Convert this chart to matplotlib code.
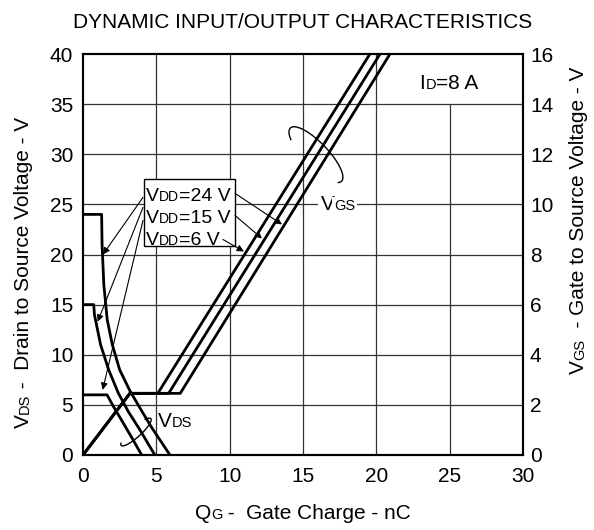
import matplotlib
matplotlib.use('Agg')
import matplotlib.pyplot as plt
from matplotlib.patches import Rectangle
import numpy as np

plt.rcParams['font.family'] = ['Liberation Sans', 'DejaVu Sans']

# Datos
x_ticks = [0, 5, 10, 15, 20, 25, 30]
vds_ticks = [0, 5, 10, 15, 20, 25, 30, 35, 40]
vgs_ticks = [0, 2, 4, 6, 8, 10, 12, 14, 16]

# V_GS (eje derecho) para VDD = 6, 15, 24 V
q_vgs_6 = [0, 3.2, 5.1, 19.56]
q_vgs_15 = [0, 3.2, 5.84, 20.25]
q_vgs_24 = [0, 3.2, 6.63, 20.93]
vgs_vals = [0, 2.46, 2.46, 16]

# V_DS (eje izquierdo)
q_vds_24 = [0, 1.27, 1.30, 1.42, 1.65, 2.0, 2.5, 3.2, 4.0, 4.7, 5.93]
v_vds_24 = [24, 24, 21, 17, 13.5, 11, 8.5, 6.4, 4.4, 2.7, 0]
q_vds_15 = [0, 0.73, 0.78, 1.2, 1.75, 2.4, 3.1, 3.8, 4.9]
v_vds_15 = [15, 15, 14, 11.0, 8.5, 6.2, 4.3, 2.7, 0]
q_vds_6 = [0, 1.64, 2.09, 2.7, 3.3, 4.0]
v_vds_6 = [6, 6, 4.8, 3.3, 1.8, 0]

vdd_labels = ['24', '15', '6']

FS = 15
SUB = 10.5

fig = plt.figure(figsize=(5.94, 5.30), dpi=100)
ax = fig.add_axes([83 / 594, 75 / 530, 440 / 594, 401 / 530])
ax2 = ax.twinx()
renderer = fig.canvas.get_renderer()

ax.set_xlim(0, 30)
ax.set_ylim(0, 40)
ax2.set_ylim(0, 16)
ax.set_xticks(x_ticks)
ax.set_yticks(vds_ticks)
ax2.set_yticks(vgs_ticks)
ax.tick_params(axis='both', length=0, labelsize=FS)
ax.tick_params(axis='x', pad=9)
ax.tick_params(axis='y', pad=7)
ax2.tick_params(axis='y', length=0, labelsize=FS, pad=5)
for a in (ax, ax2):
    for s in a.spines.values():
        s.set_linewidth(1.5)

# Rejilla (la linea de 25 nC se corta bajo la etiqueta I_D)
for xv in x_ticks[1:-1]:
    top = 35 if xv == 25 else 40
    ax.plot([xv, xv], [0, top], color='#333333', lw=0.9, zorder=1)
for yv in vds_ticks[1:-1]:
    ax.axhline(yv, color='#333333', lw=0.9, zorder=1)

lw = 2.0
ax.plot(q_vds_24, v_vds_24, 'k-', lw=lw, zorder=3)
ax.plot(q_vds_15, v_vds_15, 'k-', lw=lw, zorder=3)
ax.plot(q_vds_6, v_vds_6, 'k-', lw=lw, zorder=3)
ax2.plot(q_vgs_6, vgs_vals, 'k-', lw=lw, zorder=3)
ax2.plot(q_vgs_15, vgs_vals, 'k-', lw=lw, zorder=3)
ax2.plot(q_vgs_24, vgs_vals, 'k-', lw=lw, zorder=3)


def rich(px, py, parts, rot=0, ha='center', box=False):
    """Texto con subindices en linea base; px, py en pixeles (origen abajo)."""
    texts = []
    pos = 0.0
    for s, sz in parts:
        kw = {}
        if box:
            kw['bbox'] = dict(facecolor='white', edgecolor='none', pad=1.5)
        x, y = (px + pos, py) if rot == 0 else (px, py + pos)
        t = fig.text(x / 594, y / 530, s, fontsize=sz, ha='left', va='baseline',
                     rotation=rot, rotation_mode='anchor', zorder=6, **kw)
        bb = t.get_window_extent(renderer)
        pos += bb.width if rot == 0 else bb.height
        texts.append(t)
    if ha == 'center':
        for t in texts:
            x, y = t.get_position()
            if rot == 0:
                t.set_position((x - pos / 2 / 594, y))
            else:
                t.set_position((x, y - pos / 2 / 530))


def data_px(a, q, v):
    return a.transData.transform((q, v))


# Cuadro VDD
ax2.add_patch(Rectangle((4.16, 20.8 / 2.5), 6.2, 6.7 / 2.5, facecolor='white',
                        edgecolor='k', lw=1.0, zorder=4))
for txt, yv in zip(vdd_labels, [26.0, 23.8, 21.6]):
    px, py = data_px(ax, 4.3, yv)
    rich(px, py - 7, [('V', 14), ('DD', 10), ('=' + txt + ' V', 14)], ha='left')

arrow = dict(arrowstyle='-|>', color='k', lw=0.8, mutation_scale=10, shrinkA=0, shrinkB=0)
for (x0, y0), (x1, y1) in [((4.09, 25.7), (1.36, 20.0)),
                           ((4.09, 24.7), (1.0, 13.3)),
                           ((4.09, 23.4), (1.34, 6.5)),
                           ((10.36, 26.1), (13.57, 23.0)),
                           ((10.36, 23.9), (12.2, 21.6)),
                           ((9.54, 21.5), (10.97, 20.3))]:
    ax2.annotate('', xy=(x1, y1 / 2.5), xytext=(x0, y0 / 2.5), arrowprops=arrow, zorder=6)


# Lazos alrededor de las curvas
def lazo(cx, cy, a, b, u, t0, t1):
    t = np.radians(np.linspace(t0, t1, 120))
    v = (u[1], -u[0])
    dx = a * np.cos(t) * u[0] + b * np.sin(t) * v[0]
    dy = a * np.cos(t) * u[1] + b * np.sin(t) * v[1]
    ax.plot((cx + dx - 83) / 14.67, (455 - cy - dy) / 10.03, 'k-', lw=1.0, zorder=4)


lazo(316, 154.5, 37, 12, (0.69, 0.72), 220, -15)
lazo(136, 432, 20, 5, (0.74, -0.67), 160, 400)

px, py = data_px(ax, 17.38, 25.1)
rich(px, py - 7, [('V', FS), ('GS', SUB)], box=True)
px, py = data_px(ax, 5.1, 3.5)
rich(px, py - 7, [('V', FS), ('DS', SUB)], ha='left')
px, py = data_px(ax, 24.95, 37.2)
rich(px, py - 7, [('I', FS), ('D', SUB), ('=8 A', FS)])

rich(303, 530 - 28, [('DYNAMIC INPUT/OUTPUT CHARACTERISTICS', FS)])
rich(303, 530 - 519, [('Q', FS), ('G', SUB), (' -  Gate Charge - nC', FS)])
rich(29, 530 - 428, [('V', FS), ('DS', SUB), (' -  Drain to Source Voltage - V', FS)],
     rot=90, ha='left')
rich(584, 530 - 374, [('V', FS), ('GS', SUB), ('  - Gate to Source Voltage - V', FS)],
     rot=90, ha='left')

fig.savefig('out.png', dpi=100)
